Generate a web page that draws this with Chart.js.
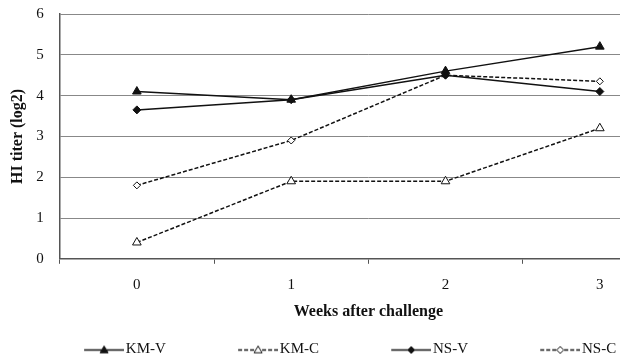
<!DOCTYPE html>
<html>
<head>
<meta charset="utf-8">
<script src="https://cdn.jsdelivr.net/npm/chart.js@4.4.1/dist/chart.umd.min.js"></script>
<style>
  html, body { margin: 0; padding: 0; background: #fff; overflow: hidden; }
  #wrap { width: 620px; height: 361px; overflow: hidden; position: relative; }
  canvas { display: block; position: absolute; left: 0; top: -11px; }
</style>
</head>
<body>
<div id="wrap"><canvas id="c" width="690" height="378"></canvas></div>
<script>
const categories = ['0', '1', '2', '3'];
const seriesNames = ['KM-V', 'KM-C', 'NS-V', 'NS-C'];
const kmV = [4.1, 3.9, 4.6, 5.2];
const kmC = [0.4, 1.9, 1.9, 3.2];
const nsV = [3.65, 3.9, 4.5, 4.1];
const nsC = [1.8, 2.9, 4.5, 4.35];
const yTicks = [0, 1, 2, 3, 4, 5, 6];

const FONT = "'Liberation Serif', 'Times New Roman', serif";
const INK = '#111';

const styles = [
  { dash: [], marker: 'triangle', fill: INK, radius: 5 },
  { dash: [4, 2], marker: 'triangle', fill: '#fff', radius: 5 },
  { dash: [], marker: 'rectRot', fill: INK, radius: 4 },
  { dash: [4, 2], marker: 'rectRot', fill: '#fff', radius: 3.5 }
];

function legendImage(st) {
  const c = document.createElement('canvas');
  c.width = 69; c.height = 14;
  const g = c.getContext('2d');
  g.strokeStyle = INK; g.lineWidth = 1.5;
  g.setLineDash(st.dash);
  g.beginPath(); g.moveTo(29, 7.5); g.lineTo(69, 7.5); g.stroke();
  g.setLineDash([]);
  const cx = 49, cy = 7.5;
  g.fillStyle = st.fill; g.lineWidth = 1;
  g.beginPath();
  if (st.marker === 'triangle') {
    const r = 4;
    g.moveTo(cx, cy - r); g.lineTo(cx + r, cy + r * 0.7); g.lineTo(cx - r, cy + r * 0.7); g.closePath();
  } else {
    const r = 3.5;
    g.moveTo(cx, cy - r); g.lineTo(cx + r, cy); g.lineTo(cx, cy + r); g.lineTo(cx - r, cy); g.closePath();
  }
  g.fill(); g.stroke();
  return c;
}
const legendImgs = styles.map(legendImage);

const seriesData = [kmV, kmC, nsV, nsC];
const datasets = seriesData.map((d, i) => ({
  label: seriesNames[i],
  data: d,
  borderColor: INK,
  borderWidth: 1.5,
  borderDash: styles[i].dash,
  pointStyle: styles[i].marker,
  pointRadius: styles[i].radius,
  pointBackgroundColor: styles[i].fill,
  pointBorderColor: INK,
  pointBorderWidth: 1,
  tension: 0,
  fill: false
}));

new Chart(document.getElementById('c'), {
  type: 'line',
  data: { labels: categories, datasets },
  options: {
    responsive: false,
    animation: false,
    devicePixelRatio: 1,
    layout: { padding: { top: 2, right: 13, left: 0, bottom: 0 } },
    plugins: {
      tooltip: { enabled: false },
      legend: {
        position: 'bottom',
        labels: {
          usePointStyle: true,
          pointStyleWidth: 57.5,
          boxHeight: 14,
          padding: 49,
          color: INK,
          font: { family: FONT, size: 15 },
          generateLabels(chart) {
            const items = Chart.defaults.plugins.legend.labels.generateLabels(chart);
            items.forEach((it, i) => { it.pointStyle = legendImgs[i]; });
            return items;
          }
        }
      }
    },
    scales: {
      x: {
        type: 'category',
        offset: true,
        grid: { offset: true, drawOnChartArea: false, drawTicks: true, tickLength: 5, color: '#555' },
        border: { color: '#555', width: 1.5 },
        ticks: { color: INK, padding: 12, font: { family: FONT, size: 15 } },
        title: {
          display: true, text: 'Weeks after challenge', color: INK,
          font: { family: FONT, size: 16, weight: 'bold' },
          padding: { top: -4, bottom: -28 }
        }
      },
      y: {
        min: 0, max: 6,
        afterBuildTicks(scale) { scale.ticks = yTicks.map(v => ({ value: v })); },
        grid: { color: '#888', lineWidth: 1, drawTicks: false },
        border: { color: '#555', width: 1.5 },
        ticks: { color: INK, padding: 16, font: { family: FONT, size: 15 } },
        title: {
          display: true, text: 'HI titer (log2)', color: INK,
          font: { family: FONT, size: 16, weight: 'bold' },
          padding: { top: 8, bottom: -7 }
        }
      }
    }
  }
});
</script>
</body>
</html>
